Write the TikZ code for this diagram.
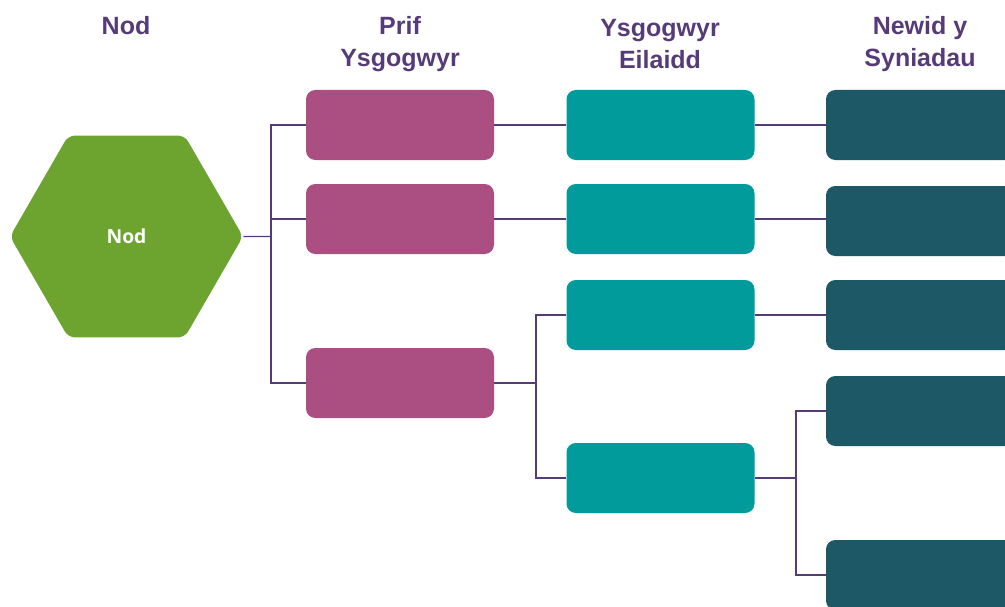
\documentclass[tikz,border=0pt]{standalone}
\usepackage{fontspec}
\setmainfont{Liberation Sans}
\newfontfamily\hexfont{Open Sans}
\usetikzlibrary{shapes.geometric,positioning}

\definecolor{nodgreen}{HTML}{6DA32F}
\definecolor{prifpink}{HTML}{AB4F82}
\definecolor{eilteal}{HTML}{029B9B}
\definecolor{newiddark}{HTML}{1D5866}
\definecolor{headpurple}{HTML}{553B78}

\begin{document}
\begin{tikzpicture}[x=0.75pt,y=-0.75pt,
                    box/.style={rectangle,rounded corners=7pt,inner sep=0pt,
                                minimum width=141pt,minimum height=52.5pt},
                    prif/.style={box,fill=prifpink},
                    eil/.style={box,fill=eilteal},
                    newid/.style={box,fill=newiddark},
                    head/.style={text=headpurple,inner sep=0pt,align=center,
                                 font=\bfseries\fontsize{18.75}{24}\selectfont},
                    link/.style={draw=headpurple,line width=0.9pt}]

  \useasboundingbox (0,0) rectangle (1005,606);

  % column headings
  \node[head] (hnod)   at (126,25.5) {Nod};
  \node[head] (hprif)  at (400,44)   {Prif\\Ysgogwyr};
  \node[head] (heil)   at (660,44)   {Ysgogwyr\\Eilaidd};
  \node[head] (hnewid) at (920,44)   {Newid y\\Syniadau};

  % goal
  \node[regular polygon,regular polygon sides=6,minimum size=174.75pt,
        inner sep=0pt,fill=nodgreen,rounded corners=5pt,text=white,
        font=\hexfont\bfseries\fontsize{14.5}{17}\selectfont]
        (nod) at (126.5,236.5) {Nod};

  % prif ysgogwyr
  \node[prif] (p1) at (400,125) {};
  \node[prif] (p2) at (400,219) {};
  \node[prif] (p3) at (400,383) {};

  % ysgogwyr eilaidd
  \node[eil] (e1) at (660.5,125) {};
  \node[eil] (e2) at (660.5,219) {};
  \node[eil] (e3) at (660.5,315) {};
  \node[eil] (e4) at (660.5,478) {};

  % newid y syniadau
  \node[newid] (n1) at (920,125) {};
  \node[newid] (n2) at (920,221) {};
  \node[newid] (n3) at (920,315) {};
  \node[newid] (n4) at (920,411) {};
  \node[newid] (n5) at (920,575) {};

  % junctions
  \coordinate (j1) at (271,236.5);
  \coordinate (j2) at (536,383);
  \coordinate (j3) at (796,478);

  \draw[link] (nod.east) -- (j1);
  \draw[link] (j1) |- (p1.west);
  \draw[link] (j1) |- (p2.west);
  \draw[link] (j1) |- (p3.west);
  \draw[link] (p1) -- (e1);
  \draw[link] (p2) -- (e2);
  \draw[link] (p3.east) -- (j2);
  \draw[link] (j2) |- (e3.west);
  \draw[link] (j2) |- (e4.west);
  \draw[link] (e1) -- (n1);
  \draw[link] (e2.east) -- (e2.east -| n2.west);
  \draw[link] (e3) -- (n3);
  \draw[link] (e4.east) -- (j3);
  \draw[link] (j3) |- (n4.west);
  \draw[link] (j3) |- (n5.west);
\end{tikzpicture}
\end{document}
